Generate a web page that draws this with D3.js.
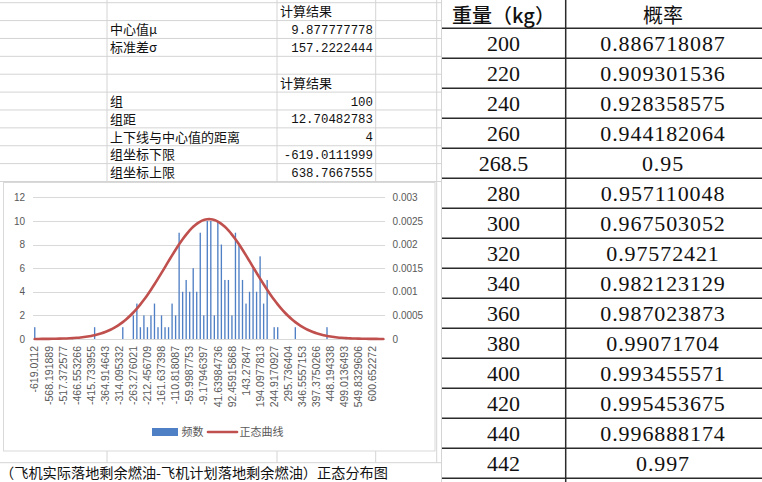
<!DOCTYPE html>
<html>
<head>
<meta charset="utf-8">
<script src="https://cdn.jsdelivr.net/npm/d3@7"></script>
<style>
  body { margin: 0; background: #fff; }
  svg { display: block; }
</style>
</head>
<body>
<svg id="chart" width="762" height="482"></svg>
<script>
// summary cells at the top left
var statLabels = ["中心值μ", "标准差σ"];
var statValues = ["9.877777778", "157.2222444"];
var groupLabels = ["组", "组距", "上下线与中心值的距离", "组坐标下限", "组坐标上限"];
var groupValues = ["100", "12.70482783", "4", "-619.0111999", "638.7667555"];

// every 4th group start is shown on the category axis
var tickLabels = ["-619.0112", "-568.191889", "-517.372577", "-466.553266", "-415.733955",
  "-364.914643", "-314.095332", "-263.276021", "-212.456709", "-161.637398",
  "-110.818087", "-59.9987753", "-9.17946397", "41.63984736", "92.45915868",
  "143.27847", "194.0977813", "244.9170927", "295.736404", "346.5557153",
  "397.3750266", "448.194338", "499.0136493", "549.8329606", "600.652272"];

// 频数 per group (100 groups)
var freq = [
  1, 0, 0, 0, 0, 0, 0, 0, 0, 0,
  0, 0, 0, 0, 0, 0, 0, 1, 0, 0,
  0, 0, 0, 0, 0, 1, 0, 0, 2, 3,
  1, 2, 1, 2, 3, 1, 2, 1, 1, 3,
  2, 9, 4, 5, 4, 6, 4, 9, 2, 10,
  10, 2, 10, 8, 5, 5, 2, 9, 8, 5,
  3, 4, 6, 4, 7, 3, 5, 0, 1, 1,
  0, 0, 0, 0, 1, 0, 0, 0, 0, 0,
  0, 0, 0, 1, 0, 0, 0, 0, 0, 0,
  0, 0, 0, 0, 0, 0, 0, 0, 0, 0
];

// 正态曲线 values per group (secondary axis)
var normalCurve = [
  0.00000085, 0.00000117, 0.00000160, 0.00000218, 0.00000294,
  0.00000395, 0.00000527, 0.00000697, 0.00000917, 0.00001199,
  0.00001556, 0.00002006, 0.00002574, 0.00003275, 0.00004143,
  0.00005208, 0.00006503, 0.00008063, 0.00009937, 0.00012174,
  0.00014810, 0.00017891, 0.00021485, 0.00025619, 0.00030365,
  0.00035741, 0.00041817, 0.00048585, 0.00056110, 0.00064348,
  0.00073318, 0.00083006, 0.00093355, 0.00104315, 0.00115802,
  0.00127730, 0.00139953, 0.00152338, 0.00164758, 0.00177029,
  0.00188976, 0.00200417, 0.00211160, 0.00221033, 0.00229871,
  0.00237511, 0.00243791, 0.00248615, 0.00251883, 0.00253532,
  0.00253532, 0.00251883, 0.00248615, 0.00243791, 0.00237511,
  0.00229871, 0.00221033, 0.00211160, 0.00200417, 0.00188976,
  0.00177029, 0.00164758, 0.00152338, 0.00139953, 0.00127730,
  0.00115802, 0.00104315, 0.00093355, 0.00083006, 0.00073318,
  0.00064348, 0.00056110, 0.00048585, 0.00041817, 0.00035741,
  0.00030365, 0.00025619, 0.00021485, 0.00017891, 0.00014810,
  0.00012174, 0.00009937, 0.00008063, 0.00006503, 0.00005208,
  0.00004143, 0.00003275, 0.00002574, 0.00002006, 0.00001556,
  0.00001199, 0.00000917, 0.00000697, 0.00000527, 0.00000395,
  0.00000294, 0.00000218, 0.00000160, 0.00000117, 0.00000085
];

var yTicks = [0, 2, 4, 6, 8, 10, 12];
var y2Ticks = [0, 0.0005, 0.001, 0.0015, 0.002, 0.0025, 0.003];

// right hand table
var weights = ["200", "220", "240", "260", "268.5", "280", "300", "320", "340", "360", "380", "400", "420", "440", "442"];
var probs = ["0.886718087", "0.909301536", "0.928358575", "0.944182064", "0.95", "0.957110048",
  "0.967503052", "0.97572421", "0.982123129", "0.987023873", "0.99071704", "0.993455571",
  "0.995453675", "0.996888174", "0.997"];

var title = "（飞机实际落地剩余燃油-飞机计划落地剩余燃油）正态分布图";

var cjk = "'Noto Sans CJK SC', 'Noto Sans', sans-serif";
var svg = d3.select("#chart");

// ---- spreadsheet grid on the left
var grid = svg.append("g").attr("stroke", "#d4d4d4").attr("stroke-width", 1);
var rowLines = d3.range(11).map(function(k) { return 2.7 + k * 17.88; });
rowLines.push(462.7);
rowLines.forEach(function(yy) {
  grid.append("line").attr("x1", 0).attr("x2", 441).attr("y1", yy).attr("y2", yy);
});
[107, 277, 375.7, 436.7].forEach(function(xx) {
  grid.append("line").attr("x1", xx).attr("x2", xx).attr("y1", 0).attr("y2", 462.7);
});

function rowMid(k) { return 2.7 + k * 17.88 + 9; }

var cells = svg.append("g").attr("fill", "#111");
cells.append("text").attr("x", 280).attr("y", rowMid(0)).attr("dy", "0.36em")
  .style("font", "13px " + cjk).text("计算结果");
cells.append("text").attr("x", 280).attr("y", rowMid(4)).attr("dy", "0.36em")
  .style("font", "13px " + cjk).text("计算结果");

statLabels.forEach(function(s, i) {
  cells.append("text").attr("x", 110).attr("y", rowMid(i + 1)).attr("dy", "0.36em")
    .style("font", "13px " + cjk).text(s);
  cells.append("text").attr("x", 373).attr("y", rowMid(i + 1)).attr("dy", "0.36em")
    .attr("text-anchor", "end").style("font", "12.4px 'Liberation Mono', monospace").text(statValues[i]);
});
groupLabels.forEach(function(s, i) {
  cells.append("text").attr("x", 110).attr("y", rowMid(i + 5)).attr("dy", "0.36em")
    .style("font", "13px " + cjk).text(s);
  cells.append("text").attr("x", 373).attr("y", rowMid(i + 5)).attr("dy", "0.36em")
    .attr("text-anchor", "end").style("font", "12.4px 'Liberation Mono', monospace").text(groupValues[i]);
});

// ---- chart object
svg.append("rect").attr("x", 3.5).attr("y", 182.5).attr("width", 431.5).attr("height", 268.5)
  .attr("fill", "#fff").attr("stroke", "#d9d9d9");

var plot = { left: 33, right: 385.1, top: 197.3, bottom: 339 };

var x = d3.scaleBand().domain(d3.range(freq.length)).range([plot.left, plot.right])
  .paddingInner(0.62).paddingOuter(0.31);
var xMid = function(i) { return x(i) + x.bandwidth() / 2; };
var y = d3.scaleLinear().domain([0, 12]).range([plot.bottom, plot.top]);
var y2 = d3.scaleLinear().domain([0, 0.003]).range([plot.bottom, plot.top]);

// gridlines
svg.append("g").selectAll("line").data(yTicks).join("line")
  .attr("x1", plot.left).attr("x2", plot.right)
  .attr("y1", function(d) { return Math.round(y(d)) + 0.5; })
  .attr("y2", function(d) { return Math.round(y(d)) + 0.5; })
  .attr("stroke", "#d9d9d9").attr("stroke-width", 1);

var axisFont = "10px 'Liberation Sans', Arial, sans-serif";

var yAxis = svg.append("g").attr("transform", "translate(" + (plot.left - 8) + ",0)")
  .call(d3.axisLeft(y).tickValues(yTicks).tickSize(0).tickPadding(0));
yAxis.select(".domain").remove();
yAxis.selectAll("text").style("font", axisFont).attr("fill", "#595959");

var y2Axis = svg.append("g").attr("transform", "translate(" + (plot.right + 7.5) + ",0)")
  .call(d3.axisRight(y2).tickValues(y2Ticks).tickSize(0).tickPadding(0).tickFormat(function(d) { return String(+d.toFixed(4)); }));
y2Axis.select(".domain").remove();
y2Axis.selectAll("text").style("font", axisFont).attr("fill", "#595959");

// category axis, label every 4th group
var xAxis = svg.append("g").attr("transform", "translate(0," + plot.bottom + ")")
  .call(d3.axisBottom(x)
    .tickValues(d3.range(0, freq.length, 4))
    .tickSize(0)
    .tickFormat(function(d) { return tickLabels[d / 4]; }));
xAxis.select(".domain").remove();
xAxis.selectAll("text")
  .style("font", "10.5px 'Liberation Sans', Arial, sans-serif")
  .attr("fill", "#595959")
  .attr("text-anchor", "end")
  .attr("transform", "rotate(-90)")
  .attr("x", -7).attr("y", 0).attr("dy", "0.35em");

// bars
svg.append("g").selectAll("rect").data(freq).join("rect")
  .attr("x", function(d, i) { return x(i); })
  .attr("width", x.bandwidth())
  .attr("y", function(d) { return y(d); })
  .attr("height", function(d) { return y(0) - y(d); })
  .attr("fill", "#4f7fc4");

// normal curve
var line = d3.line()
  .x(function(d, i) { return xMid(i); })
  .y(function(d) { return y2(d); })
  .curve(d3.curveCatmullRom);
svg.append("path").datum(normalCurve).attr("d", line)
  .attr("fill", "none").attr("stroke", "#c0504d").attr("stroke-width", 2.6)
  .attr("stroke-linecap", "round");

// legend
var lg = svg.append("g").attr("transform", "translate(0,432)");
lg.append("rect").attr("x", 152).attr("y", -4).attr("width", 26).attr("height", 8).attr("fill", "#4f7fc4");
lg.append("text").attr("x", 181.5).attr("dy", "0.36em").attr("fill", "#595959")
  .style("font", "11px " + cjk).text("频数");
lg.append("line").attr("x1", 208).attr("x2", 237).attr("y1", 0).attr("y2", 0)
  .attr("stroke", "#c0504d").attr("stroke-width", 2.6).attr("stroke-linecap", "round");
lg.append("text").attr("x", 239.5).attr("dy", "0.36em").attr("fill", "#595959")
  .style("font", "11px " + cjk).text("正态曲线");

// title cell under the chart
svg.append("text").attr("x", 0).attr("y", 473).attr("dy", "0.36em")
  .style("font", "14.2px " + cjk).attr("fill", "#111").text(title);

// ---- right table
var tb = svg.append("g");
tb.append("rect").attr("x", 441).attr("y", 0).attr("width", 321).attr("height", 482).attr("fill", "#fff");
var rowH = 30;
var headH = 28.3;
var colL = 503.5, colR = 663, divX = 565.7;

tb.append("text").attr("x", colL).attr("y", 16).attr("dy", "0.36em").attr("text-anchor", "middle")
  .style("font", "500 20px " + cjk).attr("fill", "#111").text("重量（kg）");
tb.append("text").attr("x", colR).attr("y", 16).attr("dy", "0.36em").attr("text-anchor", "middle")
  .style("font", "400 20px " + cjk).attr("fill", "#111").text("概率");

weights.forEach(function(w, i) {
  var cy = headH + i * rowH + rowH / 2;
  tb.append("text").attr("x", colL).attr("y", cy).attr("dy", "0.36em").attr("text-anchor", "middle")
    .style("font", "22px 'Liberation Serif', serif").attr("fill", "#111").text(w);
  tb.append("text").attr("x", colR).attr("y", cy).attr("dy", "0.36em").attr("text-anchor", "middle")
    .style("font", "22px 'Liberation Serif', serif").style("letter-spacing", "0.9px")
    .attr("fill", "#111").text(probs[i]);
});

d3.range(weights.length + 1).forEach(function(k) {
  var yy = headH + k * rowH;
  tb.append("line").attr("x1", 442).attr("x2", 762).attr("y1", yy).attr("y2", yy)
    .attr("stroke", "#2b2b2b").attr("stroke-width", 1.5);
});
tb.append("line").attr("x1", divX).attr("x2", divX).attr("y1", 0).attr("y2", 482)
  .attr("stroke", "#2b2b2b").attr("stroke-width", 1.5);
tb.append("line").attr("x1", 441.5).attr("x2", 441.5).attr("y1", 0).attr("y2", 482)
  .attr("stroke", "#d4d4d4").attr("stroke-width", 1);
</script>
</body>
</html>
